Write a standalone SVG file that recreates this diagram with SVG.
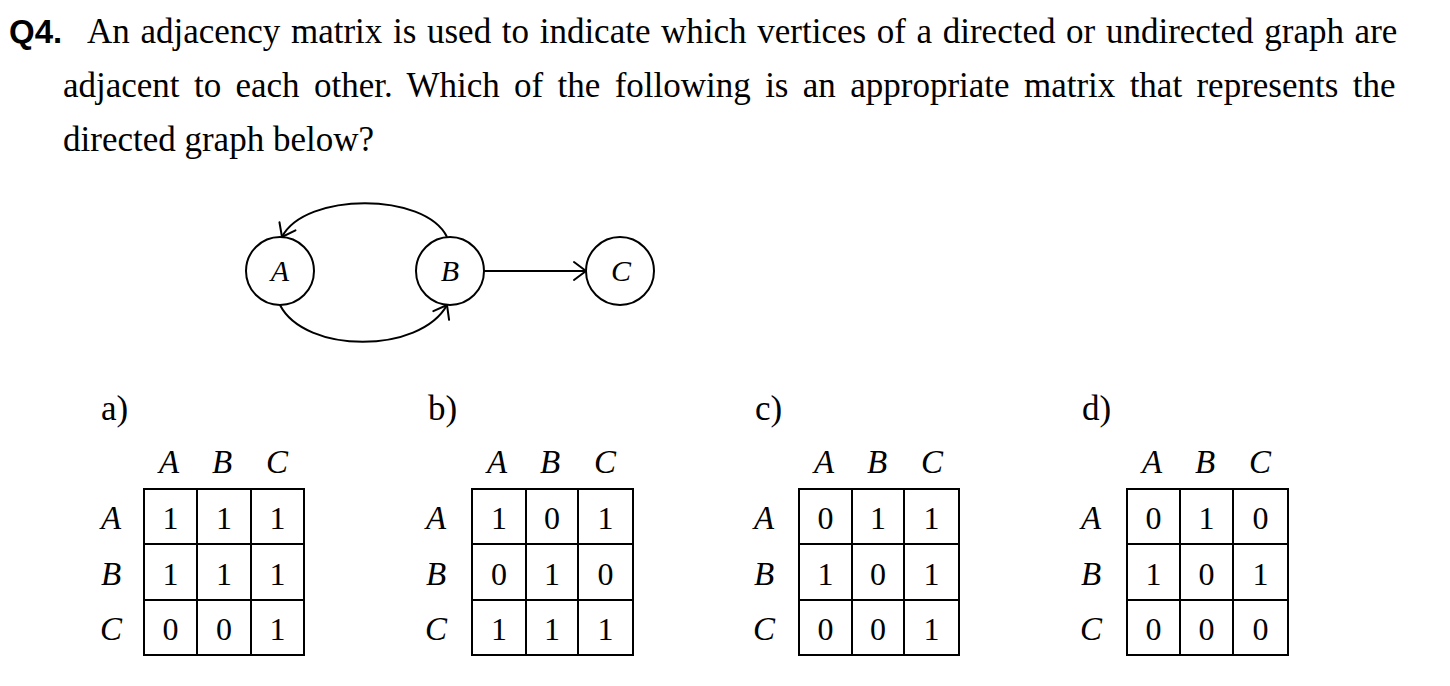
<svg xmlns="http://www.w3.org/2000/svg" width="1450" height="686" viewBox="0 0 1450 686">
<defs>
<style>
.q{font-family:"Liberation Sans",Arial,sans-serif;font-weight:bold;font-size:33px;fill:#000}
.t{font-family:"Liberation Serif","Times New Roman",serif;font-size:35px;fill:#000}
.lbl{font-family:"Liberation Serif","Times New Roman",serif;font-size:35px;fill:#000}
.v{font-family:"Liberation Serif","Times New Roman",serif;font-size:32px;fill:#000;text-anchor:middle}
.it{font-family:"Liberation Serif","Times New Roman",serif;font-style:italic;font-size:33px;fill:#000;text-anchor:middle}
.nd{font-family:"Liberation Serif","Times New Roman",serif;font-style:italic;font-size:30px;fill:#000;text-anchor:middle}
.grid{fill:none;stroke:#000;stroke-width:2}
.node{fill:#fff;stroke:#000;stroke-width:2}
.edge{fill:none;stroke:#000;stroke-width:2;marker-end:url(#arr)}
</style>
<marker id="arr" markerUnits="userSpaceOnUse" markerWidth="30" markerHeight="30" viewBox="-15 -15 30 30" refX="0" refY="0" orient="auto" overflow="visible">
<path d="M-12,-9 Q-4,-3 0,0 Q-4,3 -12,9" fill="none" stroke="#000" stroke-width="2" stroke-linecap="round"/>
</marker>
</defs>
<rect width="1450" height="686" fill="#fff"/>
<g id="question">
<text class="q" x="9" y="43">Q4.</text>
<text class="t" x="87" y="43" word-spacing="1.9">An adjacency matrix is used to indicate which vertices of a directed or undirected graph are</text>
<text class="t" x="63" y="97" word-spacing="5.6">adjacent to each other. Which of the following is an appropriate matrix that represents the</text>
<text class="t" x="63" y="151">directed graph below?</text>
</g>
<g id="connectors">
<path class="edge" d="M447,237 C425,192 305,192 282,237"/>
<path class="edge" d="M280,305 C305,354 420,354 447,305"/>
<path class="edge" d="M484,271 L586,271"/>
</g>
<g id="node-A"><circle class="node" cx="280" cy="271" r="34"/><text class="nd" x="280" y="281">A</text></g>
<g id="node-B"><circle class="node" cx="450" cy="271" r="34"/><text class="nd" x="450" y="281">B</text></g>
<g id="node-C"><circle class="node" cx="620" cy="271" r="34"/><text class="nd" x="621" y="281">C</text></g>

<g id="option-a" transform="translate(144,0)">
<text class="lbl" x="-43" y="420">a)</text>
<text class="it" x="25" y="473">A</text><text class="it" x="78" y="473">B</text><text class="it" x="133" y="473">C</text>
<text class="it" x="-33" y="529">A</text><text class="it" x="-33" y="585">B</text><text class="it" x="-33" y="640">C</text>
<path class="grid" d="M0,489H160V655H0Z M53,489V655 M107,489V655 M0,544H160 M0,600H160"/>
<text class="v" x="26.5" y="529">1</text><text class="v" x="80" y="529">1</text><text class="v" x="133.5" y="529">1</text>
<text class="v" x="26.5" y="585">1</text><text class="v" x="80" y="585">1</text><text class="v" x="133.5" y="585">1</text>
<text class="v" x="26.5" y="640">0</text><text class="v" x="80" y="640">0</text><text class="v" x="133.5" y="640">1</text>
</g>

<g id="option-b" transform="translate(472,0)">
<text class="lbl" x="-44" y="420">b)</text>
<text class="it" x="25" y="473">A</text><text class="it" x="78" y="473">B</text><text class="it" x="133" y="473">C</text>
<text class="it" x="-36" y="529">A</text><text class="it" x="-36" y="585">B</text><text class="it" x="-36" y="640">C</text>
<path class="grid" d="M0,489H161V655H0Z M54,489V655 M106,489V655 M0,544H161 M0,600H161"/>
<text class="v" x="27" y="529">1</text><text class="v" x="80" y="529">0</text><text class="v" x="133.5" y="529">1</text>
<text class="v" x="27" y="585">0</text><text class="v" x="80" y="585">1</text><text class="v" x="133.5" y="585">0</text>
<text class="v" x="27" y="640">1</text><text class="v" x="80" y="640">1</text><text class="v" x="133.5" y="640">1</text>
</g>

<g id="option-c" transform="translate(799,0)">
<text class="lbl" x="-44" y="420">c)</text>
<text class="it" x="25" y="473">A</text><text class="it" x="78" y="473">B</text><text class="it" x="133" y="473">C</text>
<text class="it" x="-35" y="529">A</text><text class="it" x="-35" y="585">B</text><text class="it" x="-35" y="640">C</text>
<path class="grid" d="M0,489H160V655H0Z M53,489V655 M105,489V655 M0,544H160 M0,600H160"/>
<text class="v" x="26.5" y="529">0</text><text class="v" x="79" y="529">1</text><text class="v" x="132.5" y="529">1</text>
<text class="v" x="26.5" y="585">1</text><text class="v" x="79" y="585">0</text><text class="v" x="132.5" y="585">1</text>
<text class="v" x="26.5" y="640">0</text><text class="v" x="79" y="640">0</text><text class="v" x="132.5" y="640">1</text>
</g>

<g id="option-d" transform="translate(1127,0)">
<text class="lbl" x="-45" y="420">d)</text>
<text class="it" x="25" y="473">A</text><text class="it" x="78" y="473">B</text><text class="it" x="133" y="473">C</text>
<text class="it" x="-36" y="529">A</text><text class="it" x="-36" y="585">B</text><text class="it" x="-36" y="640">C</text>
<path class="grid" d="M0,489H161V655H0Z M53,489V655 M106,489V655 M0,544H161 M0,600H161"/>
<text class="v" x="26.5" y="529">0</text><text class="v" x="79.5" y="529">1</text><text class="v" x="133.5" y="529">0</text>
<text class="v" x="26.5" y="585">1</text><text class="v" x="79.5" y="585">0</text><text class="v" x="133.5" y="585">1</text>
<text class="v" x="26.5" y="640">0</text><text class="v" x="79.5" y="640">0</text><text class="v" x="133.5" y="640">0</text>
</g>
</svg>
